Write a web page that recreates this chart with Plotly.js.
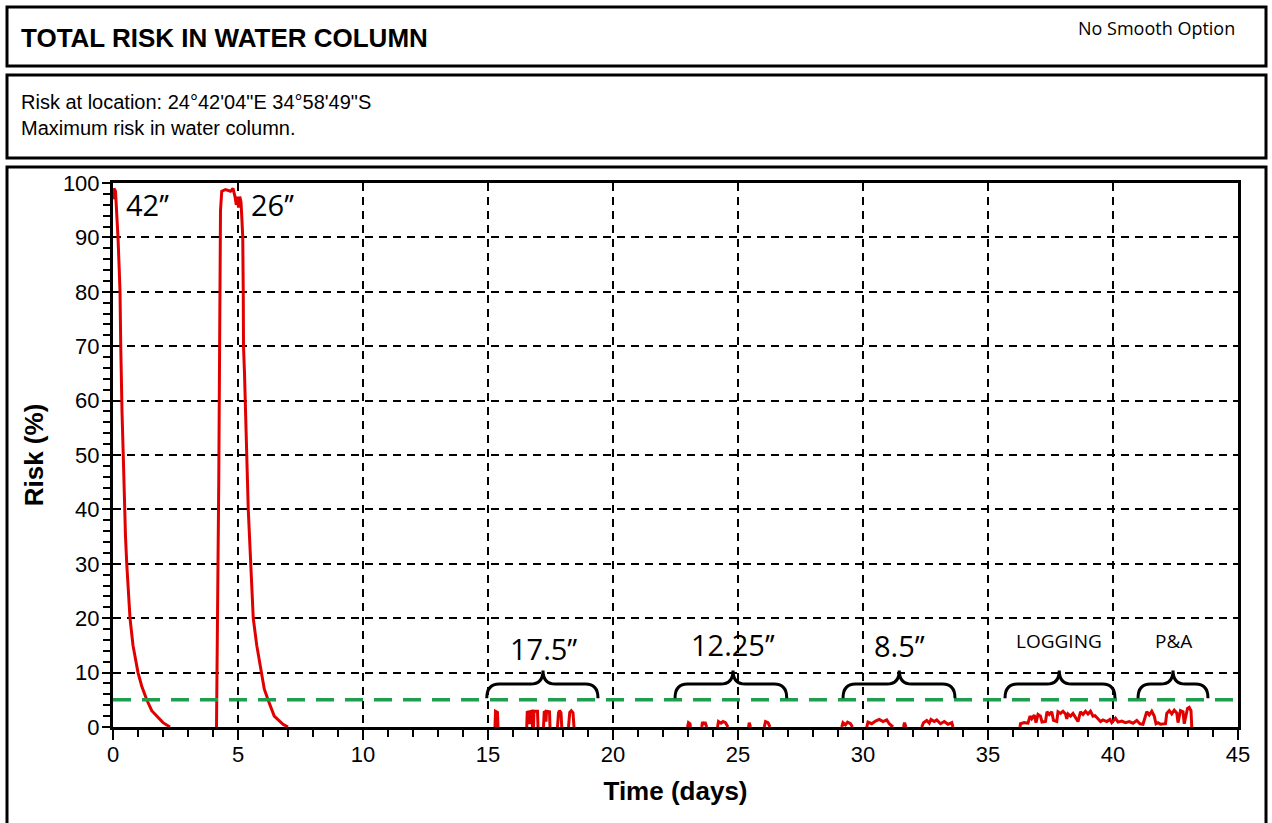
<!DOCTYPE html>
<html>
<head>
<meta charset="utf-8">
<script src="https://cdn.plot.ly/plotly-3.0.1.min.js"></script>
<style>
html,body{margin:0;padding:0;background:#fff;}
#chart{width:1272px;height:823px;}
</style>
</head>
<body>
<div id="chart"></div>
<script>
// ---- data ----
const days = [
  0, 0.04, 0.1, 0.15, 0.2, 0.25, 0.28, 0.31, 0.33, 0.36, 0.41, 0.45, 0.5, 0.55, 0.62, 0.68, 0.8, 1.0, 1.15, 1.35, 1.55, 1.75, 2.0, 2.28, null,
  4.14, 4.16, 4.2, 4.23, 4.26, 4.3, 4.35, 4.5, 4.7, 4.8, 4.88, 4.93, 4.97, 5.02, 5.07, 5.12, 5.16, 5.19, 5.21, 5.22, 5.26, 5.28, 5.35, 5.41, 5.52, 5.61, 5.75, 5.92, 6.05, 6.2, 6.45, 6.8, 7.0, null,
  15.28, 15.30, 15.38, 15.40, null,
  16.55, 16.57, 16.64, 16.66, 16.68, 16.76, 16.78, null,
  16.82, 16.84, 16.98, 17.0, null,
  17.22, 17.25, 17.30, 17.32, 17.34, 17.46, 17.48, null,
  17.78, 17.82, 17.86, 17.92, 17.95, null,
  18.22, 18.27, 18.33, 18.40, 18.44, null,
  22.98, 23.02, 23.08, 23.10, null,
  23.55, 23.58, 23.64, 23.68, 23.75, null,
  24.18, 24.22, 24.32, 24.40, 24.50, 24.60, null,
  25.42, 25.45, 25.50, null,
  26.05, 26.10, 26.20, 26.28, null,
  29.15, 29.20, 29.30, 29.38, 29.50, 29.58, null,
  30.15, 30.20, 30.35, 30.50, 30.65, 30.80, 30.95, 31.05, 31.20, null,
  31.62, 31.66, 31.72, null,
  32.35, 32.42, 32.55, 32.65, 32.72, 32.85, 32.95, 33.10, 33.25, 33.40, 33.55, 33.60, null,
  36.28, 36.30, 36.45, 36.60, 36.68, 36.75, 36.85, 36.92, 37.00, 37.10, 37.16, 37.30, 37.36, 37.45, 37.55, 37.62, 37.75, 37.80, 37.90, 38.00, 38.10, 38.15, 38.20, 38.30, 38.40, 38.50, 38.60, 38.70, 38.80, 38.90, 39.00, 39.10, 39.20, 39.28, 39.40, 39.50, 39.60, 39.75, 39.88, 39.95, 40.10, 40.20, 40.35, 40.50, 40.65, 40.80, 40.95, 41.08, 41.20, 41.35, 41.45, 41.55, 41.65, 41.72, 41.80, 41.90, 42.10, 42.15, 42.25, 42.35, 42.45, 42.55, 42.60, 42.70, 42.80, 42.85, 42.98, 43.05, 43.12, 43.15
];
const risk = [
  97, 99, 98.5, 95, 90, 84, 80, 70, 62, 58, 50, 40, 35, 30, 25, 20, 15, 10, 7.5, 5, 3, 2, 0.8, 0, null,
  0, 20, 30, 45, 75, 95, 98.5, 98.8, 98.5, 99, 97.5, 96, 97.5, 95.5, 97.5, 96.5, 93, 90, 80, 70, 65, 60, 50, 40, 30, 20, 15, 10, 7, 5, 2, 0.5, 0, null,
  0, 2.9, 2.7, 0, null,
  0, 2.9, 2.6, 0.5, 2.8, 2.9, 0, null,
  0, 2.9, 2.9, 0, null,
  0, 2.9, 2.7, 1.0, 2.9, 2.8, 0, null,
  0, 2.6, 3.0, 2.6, 0, null,
  0, 2.7, 3.0, 2.6, 0, null,
  0, 0.8, 0.6, 0, null,
  0, 0.9, 0.5, 0.9, 0, null,
  0, 1.0, 0.7, 1.0, 0.8, 0, null,
  0, 0.8, 0, null,
  0, 1.0, 0.8, 0, null,
  0, 0.8, 0.4, 0.9, 0.6, 0, null,
  0, 0.9, 0.6, 1.1, 1.4, 1.0, 1.3, 0.6, 0, null,
  0, 0.8, 0, null,
  0, 0.8, 1.2, 0.7, 1.4, 1.0, 1.3, 0.6, 1.0, 0.5, 0.8, 0, null,
  0, 0.6, 0.8, 0.7, 2.0, 1.5, 2.2, 0.8, 2.3, 2.0, 0.9, 1.0, 2.8, 2.3, 2.8, 1.2, 1.0, 2.8, 2.5, 2.9, 2.4, 1.5, 2.4, 2.0, 2.5, 1.8, 1.0, 2.8, 2.3, 2.9, 2.4, 2.9, 2.0, 2.1, 1.6, 1.0, 1.3, 1.0, 1.4, 0.8, 1.6, 0.9, 1.1, 0.8, 1.0, 0.7, 1.2, 0.6, 0.5, 2.8, 2.2, 2.9, 2.0, 0.6, 0.8, 0.5, 0.6, 2.5, 3.0, 2.4, 3.1, 2.6, 0.8, 3.0, 2.8, 0.6, 3.4, 3.6, 3.0, 0
];
const threshold = 5;
const xTicks = [0, 5, 10, 15, 20, 25, 30, 35, 40, 45];
const yTicks = [0, 10, 20, 30, 40, 50, 60, 70, 80, 90, 100];

const peakLabels = ["42’’", "26’’"];
const peakLabelX = [0.45, 5.45];
const peakLabelY = [96, 96];

const phaseLabels = ["17.5’’", "12.25’’", "8.5’’", "LOGGING", "P&A"];
const braceStart = [14.95, 22.48, 29.2, 35.68, 41.0];
const braceEnd   = [19.4, 26.95, 33.68, 40.08, 43.8];
const braceMid   = [17.2, 24.8, 31.45, 37.85, 42.4];
const phaseLabelY = [14.5, 15.2, 14.9, 15.9, 15.9];

// ---- layout helpers ----
const L = 113, R = 34, T = 183, B = 96, W = 1272, H = 823;
const pw = W - L - R, ph = H - T - B;
const px = v => (v - L) / pw;
const py = v => (H - B - v) / ph;

const shapes = [];
// outer frames
[[7, 7, 1266, 66], [7, 75, 1266, 158], [7, 167, 1266, 840]].forEach(b => {
  shapes.push({type: 'rect', xref: 'paper', yref: 'paper', x0: px(b[0]), x1: px(b[2]), y0: py(b[1]), y1: py(b[3]),
    line: {color: '#000', width: 3}, fillcolor: 'rgba(0,0,0,0)', layer: 'above'});
});
// threshold
shapes.push({type: 'line', xref: 'paper', yref: 'y', x0: 0, x1: 1, y0: threshold, y1: threshold,
  line: {color: '#1f9e4f', width: 3.5, dash: '18px,11px'}, layer: 'above'});
// braces
const yTip = 5.3, yArm = 7.9, yCusp = 10.4, r = 0.5;
for (let i = 0; i < braceStart.length; i++) {
  const a = braceStart[i], b = braceEnd[i], c = braceMid[i];
  const d = `M ${a},${yTip} Q ${a},${yArm} ${a + r},${yArm} L ${c - r},${yArm} Q ${c},${yArm} ${c},${yCusp} ` +
            `Q ${c},${yArm} ${c + r},${yArm} L ${b - r},${yArm} Q ${b},${yArm} ${b},${yTip}`;
  shapes.push({type: 'path', xref: 'x', yref: 'y', path: d, line: {color: '#000', width: 3}, layer: 'above'});
}

const annotations = [
  {text: 'TOTAL RISK IN WATER COLUMN', xref: 'paper', yref: 'paper', x: px(19), y: py(38), xanchor: 'left', yanchor: 'middle',
    showarrow: false, font: {family: 'Liberation Sans, Arial, sans-serif', size: 26, color: '#000', weight: 'bold'}},
  {text: 'No Smooth Option', xref: 'paper', yref: 'paper', x: px(1237), y: py(28), xanchor: 'right', yanchor: 'middle',
    showarrow: false, font: {family: 'Open Sans, sans-serif', size: 18, color: '#000'}},
  {text: 'Risk at location: 24°42\'04"E 34°58\'49"S<br>Maximum risk in water column.', xref: 'paper', yref: 'paper',
    x: px(19), y: py(115), xanchor: 'left', yanchor: 'middle', align: 'left', showarrow: false,
    font: {family: 'Liberation Sans, Arial, sans-serif', size: 20, color: '#000'}}
];
for (let i = 0; i < peakLabels.length; i++) {
  annotations.push({text: peakLabels[i], x: peakLabelX[i], y: peakLabelY[i], xref: 'x', yref: 'y', xanchor: 'left', yanchor: 'middle',
    showarrow: false, font: {family: 'Open Sans, sans-serif', size: 29, color: '#000'}});
}
for (let i = 0; i < phaseLabels.length; i++) {
  const small = phaseLabels[i] === 'LOGGING' || phaseLabels[i] === 'P&A';
  annotations.push({text: phaseLabels[i].replace('&', '&amp;'), x: braceMid[i], y: phaseLabelY[i], xref: 'x', yref: 'y', xanchor: 'center', yanchor: 'middle',
    showarrow: false, font: {family: 'Open Sans, sans-serif', size: small ? 19 : 29, color: '#000'}});
}

const trace = {
  x: days, y: risk, type: 'scatter', mode: 'lines', connectgaps: false,
  line: {color: '#e00000', width: 3}, hoverinfo: 'skip'
};

const axisFont = {family: 'Liberation Sans, Arial, sans-serif', size: 22, color: '#000'};
const titleFont = {family: 'Liberation Sans, Arial, sans-serif', size: 26, color: '#000', weight: 'bold'};

const layout = {
  width: W, height: H,
  margin: {l: L, r: R, t: T, b: B, pad: 0},
  paper_bgcolor: '#fff', plot_bgcolor: '#fff',
  showlegend: false,
  xaxis: {
    range: [0, 45], tickmode: 'array', tickvals: xTicks, ticktext: xTicks.map(String),
    ticks: 'outside', ticklen: 10, tickwidth: 2, tickcolor: '#000', ticklabelstandoff: -4,
    showline: true, linecolor: '#000', linewidth: 3, mirror: true,
    showgrid: true, gridcolor: '#000', gridwidth: 2, griddash: '8px,6px',
    zeroline: false, tickfont: axisFont,
    minor: {dtick: 1, ticks: 'outside', ticklen: 7, tickwidth: 2, tickcolor: '#000', showgrid: false},
    title: {text: 'Time (days)', font: titleFont, standoff: 16}, automargin: false
  },
  yaxis: {
    range: [0, 100], tickmode: 'array', tickvals: yTicks, ticktext: yTicks.map(String),
    ticks: 'outside', ticklen: 8, tickwidth: 2, tickcolor: '#000', ticklabelstandoff: -2,
    showline: true, linecolor: '#000', linewidth: 3, mirror: true,
    showgrid: true, gridcolor: '#000', gridwidth: 2, griddash: '8px,6px',
    zeroline: false, tickfont: axisFont,
    minor: {dtick: 2, ticks: 'outside', ticklen: 7, tickwidth: 2, tickcolor: '#000', showgrid: false},
    title: {text: 'Risk (%)', font: titleFont, standoff: 12}, automargin: false
  },
  shapes: shapes,
  annotations: annotations
};

Plotly.newPlot('chart', [trace], layout, {displayModeBar: false, staticPlot: true});
</script>
</body>
</html>
